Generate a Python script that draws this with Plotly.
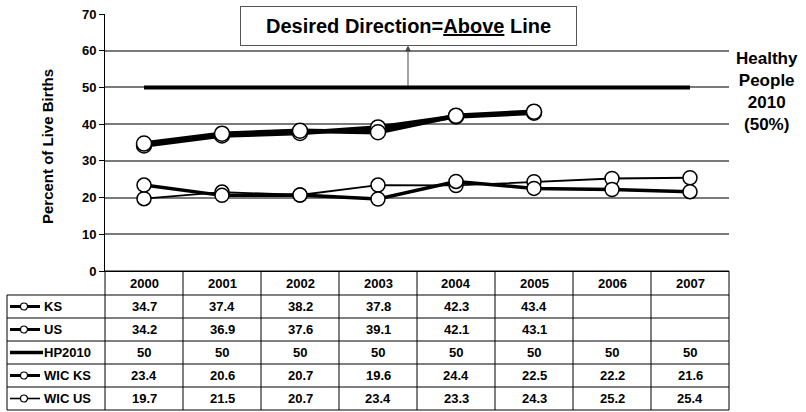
"""Breastfeeding-style trend chart with a data table under the plot (Plotly)."""

import plotly.graph_objects as go

YEARS = ["2000", "2001", "2002", "2003", "2004", "2005", "2006", "2007"]
SERIES_NAMES = ["KS", "US", "HP2010", "WIC KS", "WIC US"]
KS = [34.7, 37.4, 38.2, 37.8, 42.3, 43.4, None, None]
US = [34.2, 36.9, 37.6, 39.1, 42.1, 43.1, None, None]
HP2010 = [50, 50, 50, 50, 50, 50, 50, 50]
WIC_KS = [23.4, 20.6, 20.7, 19.6, 24.4, 22.5, 22.2, 21.6]
WIC_US = [19.7, 21.5, 20.7, 23.4, 23.3, 24.3, 25.2, 25.4]
Y_TICKS = [0, 10, 20, 30, 40, 50, 60, 70]
Y_TITLE = "Percent of Live Births"
TARGET_NOTE = "Healthy<br>People<br>2010<br>(50%)"
DIRECTION_NOTE = "Desired Direction=<u>Above</u> Line"

# page geometry (pixels)
W, H = 806, 412
PLOT_L, PLOT_R = 105, 729
PLOT_T, PLOT_B = 14, 271
TABLE_L = 7
ROW_EDGES = [271, 295, 318, 341, 364, 387, 410]

FONT = "Arial, Liberation Sans, sans-serif"
GRID = "#7a7a7a"

# per-series look: line width, marker size (0 = no marker), legend key line width
STYLE = {
    "KS": (4.5, 15, 3),
    "US": (4.5, 15, 3),
    "HP2010": (4, 0, 3.5),
    "WIC KS": (3.5, 14, 3),
    "WIC US": (1.8, 14, 1.6),
}


def px_x(v):
    return v / W


def px_y(v):
    return 1 - v / H


def bold(s):
    return f"<b>{s}</b>"


series = dict(zip(SERIES_NAMES, [KS, US, HP2010, WIC_KS, WIC_US]))
cats = list(range(len(YEARS)))

fig = go.Figure()

draw_order = ["HP2010", "WIC US", "WIC KS", "US", "KS"]
for name in draw_order:
    lw, ms, _ = STYLE[name]
    fig.add_trace(go.Scatter(
        x=cats, y=series[name], name=name,
        mode="lines+markers" if ms else "lines",
        line=dict(color="black", width=lw),
        marker=dict(size=ms, color="white", line=dict(color="black", width=1.5)),
        connectgaps=False, showlegend=False, hoverinfo="skip", cliponaxis=False,
    ))

shapes = []


def line_px(x0, y0, x1, y1, width=1, color="black"):
    shapes.append(dict(type="line", xref="paper", yref="paper",
                       x0=px_x(x0), x1=px_x(x1), y0=px_y(y0), y1=px_y(y1),
                       line=dict(color=color, width=width)))


# table grid
for k, ye in enumerate(ROW_EDGES):
    line_px(PLOT_L if k == 0 else TABLE_L, ye, PLOT_R, ye)
col_w = (PLOT_R - PLOT_L) / len(YEARS)
for i in range(len(YEARS) + 1):
    xe = PLOT_L + i * col_w
    line_px(xe, ROW_EDGES[0], xe, ROW_EDGES[-1])
line_px(TABLE_L, ROW_EDGES[1], TABLE_L, ROW_EDGES[-1])

# legend keys in the label column
for r, name in enumerate(SERIES_NAMES):
    lw, ms, slw = STYLE[name]
    yc = (ROW_EDGES[r + 1] + ROW_EDGES[r + 2]) / 2
    line_px(10, yc, 43 if not ms else 40, yc, width=slw)
    if ms:
        rad = 3.5
        shapes.append(dict(type="circle", xref="paper", yref="paper",
                           x0=px_x(24 - rad), x1=px_x(24 + rad),
                           y0=px_y(yc + rad), y1=px_y(yc - rad),
                           fillcolor="white", line=dict(color="black", width=1.2)))

annotations = []
cell_font = dict(family=FONT, size=13, color="black")
for i, yr in enumerate(YEARS):
    annotations.append(dict(x=i, xref="x", y=px_y((ROW_EDGES[0] + ROW_EDGES[1]) / 2), yref="paper",
                            xanchor="center", yanchor="middle",
                            text=bold(yr), showarrow=False, font=cell_font))
for r, name in enumerate(SERIES_NAMES):
    yc = px_y((ROW_EDGES[r + 1] + ROW_EDGES[r + 2]) / 2)
    annotations.append(dict(x=px_x(42), xref="paper", y=yc, yref="paper",
                            xanchor="left", yanchor="middle",
                            text=bold(name), showarrow=False, font=cell_font))
    for i, v in enumerate(series[name]):
        if v is None:
            continue
        txt = str(v) if isinstance(v, int) else f"{v:.1f}"
        annotations.append(dict(x=i, xref="x", y=yc, yref="paper",
                                xanchor="center", yanchor="middle",
                                text=bold(txt), showarrow=False, font=cell_font))

# y-axis title
annotations.append(dict(x=px_x(48), y=px_y(147), xref="paper", yref="paper",
                        xanchor="center", yanchor="middle",
                        text=bold(Y_TITLE), textangle=-90, showarrow=False,
                        font=dict(family=FONT, size=15, color="black")))
# target note on the right
annotations.append(dict(x=px_x(767), y=px_y(91), xref="paper", yref="paper",
                        xanchor="center", yanchor="middle",
                        text=bold(TARGET_NOTE), showarrow=False, align="center",
                        font=dict(family=FONT, size=17, color="black")))
# arrow from target line up to the note box
arrow_x = (408 - PLOT_L) / col_w - 0.5
annotations.append(dict(x=arrow_x, y=HP2010[0] + (88 - 46) / (PLOT_B - PLOT_T) * 70,
                        xref="x", yref="y", ax=arrow_x, ay=HP2010[0], axref="x", ayref="y",
                        text="", showarrow=True, arrowhead=2, arrowsize=1.2,
                        arrowwidth=1, arrowcolor="#444444"))
annotations.append(dict(x=px_x(408.5), y=px_y(26), xref="paper", yref="paper",
                        xanchor="center", yanchor="middle",
                        text=bold(DIRECTION_NOTE), showarrow=False,
                        width=331, height=34, borderpad=2,
                        bordercolor="#555555", borderwidth=1, bgcolor="white",
                        font=dict(family=FONT, size=20, color="black")))

fig.update_layout(
    width=W, height=H,
    margin=dict(l=0, r=0, t=0, b=0, pad=0, autoexpand=False),
    paper_bgcolor="white", plot_bgcolor="white",
    font=dict(family=FONT, color="black"),
    xaxis=dict(domain=[px_x(PLOT_L), px_x(PLOT_R)], range=[-0.5, len(YEARS) - 0.5],
               showticklabels=False, showgrid=False, zeroline=False, automargin=False,
               showline=True, linecolor="black", linewidth=1, ticks=""),
    yaxis=dict(domain=[px_y(PLOT_B), px_y(PLOT_T)], range=[0, 70], tickvals=Y_TICKS,
               ticktext=[bold(t) for t in Y_TICKS], automargin=False,
               showgrid=True, gridcolor=GRID, gridwidth=1.5, zeroline=False,
               showline=True, linecolor="black", linewidth=1,
               ticks="outside", ticklen=5, tickcolor="black",
               tickfont=dict(family=FONT, size=13, color="black")),
    shapes=shapes,
    annotations=annotations,
)

# the page body has a default 8px margin; drop it so the figure fills the window
fig.write_html("out.html", config={"displayModeBar": False},
               post_script="document.body.style.margin = '0';")
